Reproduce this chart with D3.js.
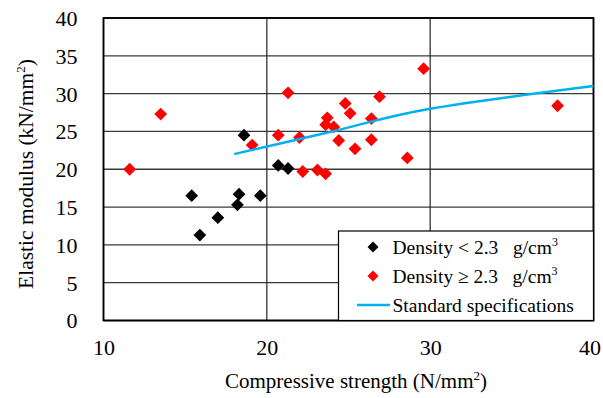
<!DOCTYPE html>
<html>
<head>
<meta charset="utf-8">
<script src="https://cdn.jsdelivr.net/npm/d3@7"></script>
<style>
  html, body { margin: 0; padding: 0; background: #fff; }
  svg { display: block; }
  text { font-family: "Liberation Serif", "Times New Roman", serif; fill: #000; }
</style>
</head>
<body>
<svg id="chart" width="603" height="398"></svg>
<script>
// ---- data ----
const blackX = [15.4, 18.3, 19.6, 18.2, 17.0, 15.9, 18.6, 20.7, 21.3];
const blackY = [16.5, 16.7, 16.5, 15.3, 13.6, 11.3, 24.5, 20.5, 20.1];
const redX = [11.6, 13.5, 19.1, 20.7, 21.3, 22.0, 22.2, 23.1, 23.6, 23.7, 23.6, 24.1, 24.4, 24.8, 25.1, 25.4, 26.4, 26.4, 26.9, 28.6, 29.6, 37.8];
const redY = [20.0, 27.3, 23.2, 24.5, 30.1, 24.2, 19.7, 19.9, 19.4, 26.8, 25.9, 25.6, 23.8, 28.7, 27.4, 22.7, 26.7, 23.9, 29.6, 21.5, 33.3, 28.4];
const stdX = [18, 24, 30, 40];
const stdY = [22, 25, 28, 31];
const xTicks = [10, 20, 30, 40];
const yTicks = [0, 5, 10, 15, 20, 25, 30, 35, 40];

// ---- layout ----
const L = 103.5, R = 593.5, T = 18, B = 320.5, W = 603;
const svg = d3.select("#chart");
const x = d3.scaleLinear().domain([10, 40]).range([L, R]);
const y = d3.scaleLinear().domain([0, 40]).range([B, T]);

// grid
const g = svg.append("g");
g.selectAll("line.h").data(yTicks).join("line")
  .attr("x1", L).attr("x2", R)
  .attr("y1", d => y(d)).attr("y2", d => y(d))
  .attr("stroke", "#3a3a3a").attr("stroke-width", 1.3);
g.selectAll("line.v").data(xTicks).join("line")
  .attr("y1", T).attr("y2", B)
  .attr("x1", d => x(d)).attr("x2", d => x(d))
  .attr("stroke", "#222").attr("stroke-width", 1.2);
g.append("rect").attr("x", L).attr("y", T).attr("width", R - L).attr("height", B - T)
  .attr("fill", "none").attr("stroke", "#000").attr("stroke-width", 1.8);

// axes (labels only)
const xAxis = d3.axisBottom(x).tickValues(xTicks).tickSize(0).tickPadding(0);
const gx = svg.append("g").attr("transform", `translate(0,${B})`).call(xAxis);
gx.select(".domain").remove();
gx.selectAll("text").attr("dy", null).attr("y", 34.5).attr("font-size", 22)
  .attr("font-family", "Liberation Serif").attr("fill", "#000");
// keep the last label inside the picture (as the reference does)
gx.selectAll(".tick").each(function () {
  const t = d3.select(this).select("text");
  const bb = t.node().getBBox();
  const tr = d3.select(this).attr("transform");
  const tx = +/translate\(([^,]+)/.exec(tr)[1];
  const over = tx + bb.x + bb.width - (W - 2);
  if (over > 0) t.attr("x", -over);
});

const yAxis = d3.axisLeft(y).tickValues(yTicks).tickSize(0).tickPadding(0);
const gy = svg.append("g").attr("transform", `translate(${L},0)`).call(yAxis);
gy.select(".domain").remove();
gy.selectAll("text").attr("x", -26).attr("dy", "0.34em").attr("font-size", 22)
  .attr("font-family", "Liberation Serif").attr("fill", "#000");

// diamond path
function diamond(r) { return `M0,${-r}L${r},0L0,${r}L${-r},0Z`; }

const blackPts = blackX.map((v, i) => [v, blackY[i]]);
const redPts = redX.map((v, i) => [v, redY[i]]);

svg.append("g").selectAll("path").data(blackPts).join("path")
  .attr("d", diamond(6.4)).attr("fill", "#000")
  .attr("transform", d => `translate(${x(d[0])},${y(d[1])})`);
svg.append("g").selectAll("path").data(redPts).join("path")
  .attr("d", diamond(6.4)).attr("fill", "#ff0000")
  .attr("transform", d => `translate(${x(d[0])},${y(d[1])})`);

const stdPts = stdX.map((v, i) => [v, stdY[i]]);
svg.append("path").datum(stdPts)
  .attr("d", d3.line().x(d => x(d[0])).y(d => y(d[1])).curve(d3.curveCardinal.tension(0)))
  .attr("fill", "none").attr("stroke", "#00b0f0").attr("stroke-width", 2.5);

// axis titles
const xt = svg.append("text").attr("x", 356).attr("y", 388).attr("text-anchor", "middle")
  .attr("font-size", 21);
xt.append("tspan").text("Compressive strength (N/mm");
xt.append("tspan").attr("font-size", 13).attr("dy", -8).text("2");
xt.append("tspan").attr("dy", 8).text(")");

const yt = svg.append("text").attr("transform", "translate(33,174) rotate(-90)")
  .attr("text-anchor", "middle").attr("font-size", 21.5);
yt.append("tspan").text("Elastic modulus (kN/mm");
yt.append("tspan").attr("font-size", 13).attr("dy", -8).text("2");
yt.append("tspan").attr("dy", 8).text(")");

// legend
const lg = svg.append("g");
lg.append("rect").attr("x", 338.5).attr("y", 231).attr("width", 255).attr("height", 89.5)
  .attr("fill", "#fff").attr("stroke", "#000").attr("stroke-width", 1.2);
const rows = [
  { type: "black", label: "Density < 2.3   g/cm", y: 247 },
  { type: "red", label: "Density \u2265 2.3   g/cm", y: 276 },
  { type: "line", label: "Standard specifications", y: 305 }
];
rows.forEach(r => {
  if (r.type === "line") {
    lg.append("line").attr("x1", 357).attr("x2", 390).attr("y1", r.y).attr("y2", r.y)
      .attr("stroke", "#00b0f0").attr("stroke-width", 2.5);
  } else {
    lg.append("path").attr("d", diamond(5.5))
      .attr("fill", r.type === "black" ? "#000" : "#ff0000")
      .attr("transform", `translate(373,${r.y})`);
  }
  const t = lg.append("text").attr("x", 392.5).attr("y", r.y + 6.5).attr("font-size", 19.5)
    .attr("xml:space", "preserve").style("white-space", "pre");
  t.append("tspan").text(r.label);
  if (r.type !== "line") {
    t.append("tspan").attr("font-size", 12).attr("dy", -8).text("3");
  }
});
</script>
</body>
</html>
